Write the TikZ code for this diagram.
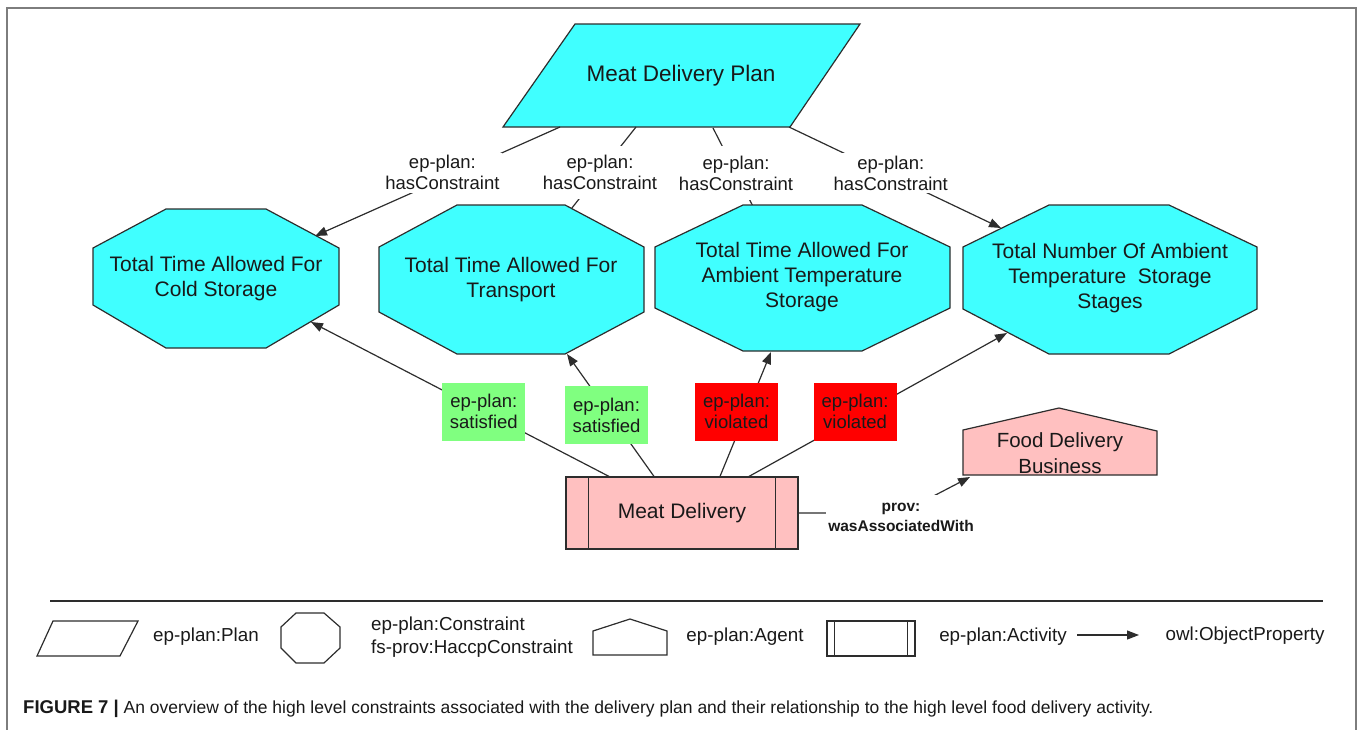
\documentclass[tikz,border=0pt]{standalone}
\usepackage{fontspec}
\setmainfont{Liberation Sans}
\usetikzlibrary{arrows.meta,calc}

\definecolor{plancyan}{RGB}{64,255,255}
\definecolor{actpink}{RGB}{255,192,192}
\definecolor{okgreen}{RGB}{128,255,128}
\definecolor{badred}{RGB}{255,0,0}
\definecolor{inkgray}{RGB}{45,45,45}
\definecolor{framegray}{RGB}{125,125,125}
\definecolor{textink}{RGB}{25,25,25}

\begin{document}
\begin{tikzpicture}[x=1pt,y=-1pt,
  outline/.style={draw=inkgray, line width=1.2pt},
  cyanshape/.style={outline, fill=plancyan},
  pinkshape/.style={outline, fill=actpink},
  bigtext/.style={font=\fontsize{21}{25}\selectfont, align=center, text=textink, inner sep=0pt},
  plantext/.style={font=\fontsize{22.5}{26}\selectfont, align=center, text=textink, inner sep=0pt},
  edgelbl/.style={font=\fontsize{18.5}{21}\selectfont, align=center, text=textink, fill=white, inner sep=3pt},
  statusbox/.style={font=\fontsize{18.5}{21}\selectfont, align=center, text=textink,
                    minimum width=83pt, minimum height=58pt, inner sep=0pt},
  assoclbl/.style={font=\fontsize{15.5}{20}\selectfont\bfseries, align=center, text=textink, fill=white,
                   inner xsep=2pt, inner ysep=8pt},
  conn/.style={draw=inkgray, line width=1.2pt},
  arr/.style={conn, -{Triangle[length=12pt,width=9pt]}},
  legtext/.style={font=\fontsize{18.8}{23}\selectfont, text=textink, inner sep=0pt},
  legshape/.style={draw=inkgray, line width=1.2pt}
]
\useasboundingbox (0,0) rectangle (1363,729);

% figure frame (open at the bottom of the page)
\draw[framegray, line width=1.5pt] (7,735) -- (7,8) -- (1356,8) -- (1356,735);

% ---------------- the plan ----------------
\path[cyanshape] (503,127) -- (790,127) -- (860,24) -- (575,24) -- cycle;
\node[plantext] (plan) at (681,76) {Meat Delivery Plan};

\coordinate (pa) at ($(plan)+(-121,51)$);
\coordinate (pb) at ($(plan)+(-45,51)$);
\coordinate (pc) at ($(plan)+(32,52)$);
\coordinate (pd) at ($(plan)+(108,51)$);

% constraint end points (the hidden ones end inside the octagons)
\coordinate (c1) at (315,236);
\coordinate (c2) at (564,218);
\coordinate (c3) at (762,224);
\coordinate (c4) at (1001,228);

% hasConstraint links (drawn below the octagons)
\draw[arr] (pa) -- node[edgelbl,pos=0.48,yshift=6.5pt]{ep-plan:\\hasConstraint} (c1);
\draw[arr] (pb) -- node[edgelbl,pos=0.50,inner ysep=9pt]{ep-plan:\\hasConstraint} (c2);
\draw[arr] (pc) -- node[edgelbl,pos=0.47,inner ysep=10pt]{ep-plan:\\hasConstraint} (c3);
\draw[arr] (pd) -- node[edgelbl,pos=0.48,yshift=2.5pt]{ep-plan:\\hasConstraint} (c4);

% ---------------- constraints ----------------
\path[cyanshape] (93,248) -- (166,209) -- (266,209) -- (339,248) -- (339,305) -- (266,348) -- (166,348) -- (93,305) -- cycle;
\node[bigtext] (o1) at (216,279) {Total Time Allowed For\\Cold Storage};

\path[cyanshape] (379,247) -- (457,205) -- (565,205) -- (644,247) -- (644,312) -- (565,354) -- (457,354) -- (379,312) -- cycle;
\node[bigtext] (o2) at (511,280) {Total Time Allowed For\\Transport};

\path[cyanshape] (655,247) -- (743,205) -- (862,205) -- (950,247) -- (950,308) -- (862,351) -- (743,351) -- (655,308) -- cycle;
\node[bigtext] (o3) at (802,277) {Total Time Allowed For\\Ambient Temperature\\Storage};

\path[cyanshape] (963,247) -- (1049,205) -- (1169,205) -- (1257,247) -- (1257,309) -- (1169,354) -- (1049,354) -- (963,309) -- cycle;
\node[bigtext] (o4) at (1110,278) {Total Number Of Ambient\\Temperature\ \ Storage\\Stages};

% ---------------- the activity ----------------
\node[pinkshape, minimum width=232pt, minimum height=72pt, bigtext] (act) at (682,513) {Meat Delivery};
\draw[outline] ($(act.north west)+(23,0)$) -- ($(act.south west)+(23,0)$);
\draw[outline] ($(act.north east)+(-23,0)$) -- ($(act.south east)+(-23,0)$);

\coordinate (a1) at ($(act.north)+(-73,0)$);
\coordinate (a2) at ($(act.north)+(-28,0)$);
\coordinate (a3) at ($(act.north)+(38,0)$);
\coordinate (a4) at ($(act.north)+(67,0)$);

\coordinate (t1) at ($(o1)+(95,43)$);
\coordinate (t2) at ($(o2)+(56,74)$);
\coordinate (t3) at ($(o3)+(-31,75)$);
\coordinate (t4) at ($(o4)+(-103,55)$);

\draw[arr] (a1) -- node[statusbox, fill=okgreen, pos=0.42] (s1) {ep-plan:\\satisfied} (t1);
\draw[arr] (a2) -- node[statusbox, fill=okgreen, pos=0.50, xshift=-4pt] (s2) {ep-plan:\\satisfied} (t2);
\draw[arr] (a3) -- node[statusbox, fill=badred, pos=0.52, xshift=-10pt] (v1) {ep-plan:\\violated} (t3);
\draw[arr] (a4) -- node[statusbox, fill=badred, pos=0.45, xshift=-10pt] (v2) {ep-plan:\\violated} (t4);

% ---------------- the agent ----------------
\path[pinkshape] (963,475) -- (963,430) -- (1059,408) -- (1157,431) -- (1157,475) -- cycle;
\node[bigtext, font=\fontsize{20.5}{26}\selectfont] (agent) at (1060,453) {Food Delivery\\Business};
\coordinate (agtip) at ($(agent)+(-90,24)$);

\coordinate (assocc) at (901,513);
\draw[arr] (act.east) -- (assocc) -- (agtip);
\node[assoclbl] (assoc) at (901,517) {prov:\\wasAssociatedWith};

% ---------------- legend ----------------
\draw[inkgray, line width=2pt] (50,601) -- (1323,601);

\path[legshape] (37,656) -- (120,656) -- (138,621) -- (53,621) -- cycle;
\node[legtext] (lplan) at (206,637) {ep-plan:Plan};

\path[legshape] (281,627) -- (296,613) -- (324,613) -- (340,627) -- (340,648) -- (324,663) -- (296,663) -- (281,648) -- cycle;
\node[legtext, anchor=west, align=left] (lcons) at (371,637) {ep-plan:Constraint\\fs-prov:HaccpConstraint};

\path[legshape] (593,655) -- (593,631) -- (630,619) -- (667,631) -- (667,655) -- cycle;
\node[legtext] (lagent) at (745,637) {ep-plan:Agent};

\node[legshape, minimum width=88pt, minimum height=35pt, inner sep=0pt] (lact) at (871,638.5) {};
\draw[legshape] ($(lact.north west)+(8,0)$) -- ($(lact.south west)+(8,0)$);
\draw[legshape] ($(lact.north east)+(-8,0)$) -- ($(lact.south east)+(-8,0)$);
\node[legtext] (lactt) at (1003,637) {ep-plan:Activity};

\coordinate (lar1) at (1077,635);
\coordinate (lar2) at (1139,635);
\draw[arr] (lar1) -- (lar2);
\node[legtext] (lprop) at (1245,636) {owl:ObjectProperty};

% ---------------- caption ----------------
\node[anchor=west, inner sep=0pt, text=textink, font=\fontsize{17.5}{20}\selectfont] (cap) at (23,709)
  {{\fontsize{18.5}{20}\selectfont\bfseries FIGURE 7 |} An overview of the high level constraints associated with the delivery plan and their relationship to the high level food delivery activity.};
\end{tikzpicture}
\end{document}
